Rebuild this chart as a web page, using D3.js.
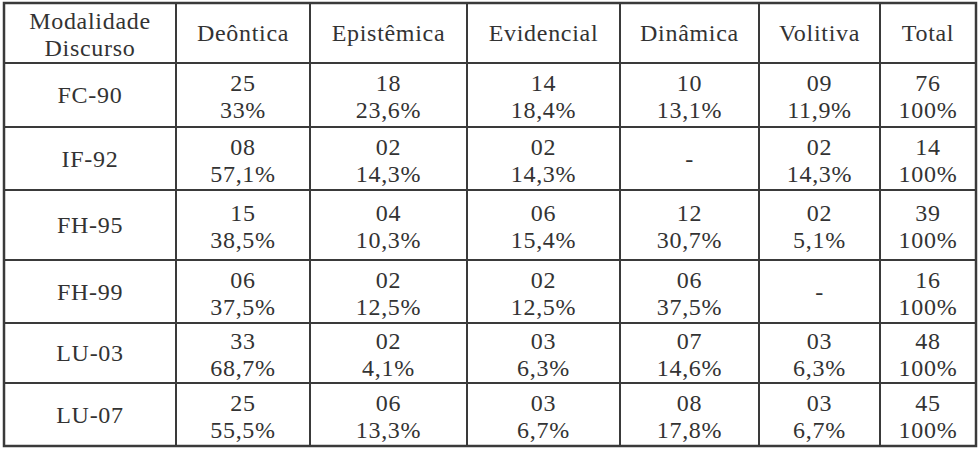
<!DOCTYPE html>
<html>
<head>
<meta charset="utf-8">
<script src="https://cdn.jsdelivr.net/npm/d3@7"></script>
<style>
  body { margin: 0; background: #fff; }
  svg text { font-family: "Liberation Serif", "DejaVu Serif", serif; fill: #333; letter-spacing: 0.7px; }
</style>
</head>
<body>
<div id="chart"></div>
<script>
// dados da tabela
var cabecalho = ["Modalidade", "Discurso"];
var modalidades = ["Deôntica", "Epistêmica", "Evidencial", "Dinâmica", "Volitiva", "Total"];
var discursos = ["FC-90", "IF-92", "FH-95", "FH-99", "LU-03", "LU-07"];

// ocorrencias por discurso (null = "-")
var ocorrencias = [
    ["25", "18", "14", "10", "09", "76"],
    ["08", "02", "02", null, "02", "14"],
    ["15", "04", "06", "12", "02", "39"],
    ["06", "02", "02", "06", null, "16"],
    ["33", "02", "03", "07", "03", "48"],
    ["25", "06", "03", "08", "03", "45"]
];

var percentuais = [
    ["33%", "23,6%", "18,4%", "13,1%", "11,9%", "100%"],
    ["57,1%", "14,3%", "14,3%", null, "14,3%", "100%"],
    ["38,5%", "10,3%", "15,4%", "30,7%", "5,1%", "100%"],
    ["37,5%", "12,5%", "12,5%", "37,5%", null, "100%"],
    ["68,7%", "4,1%", "6,3%", "14,6%", "6,3%", "100%"],
    ["55,5%", "13,3%", "6,7%", "17,8%", "6,7%", "100%"]
];

var w = 980, h = 449;

// grade (bordas das colunas e linhas)
var colEdges = [4, 176, 310, 467, 620, 759, 880, 976];
var rowEdges = [3, 63, 127, 190, 260, 323, 383, 446];

var colKeys = ["_disc"].concat(modalidades);
var rowKeys = ["_head"].concat(discursos);

var xLeft = d3.scaleOrdinal(colKeys, colEdges.slice(0, -1));
var xRight = d3.scaleOrdinal(colKeys, colEdges.slice(1));
var yTop = d3.scaleOrdinal(rowKeys, rowEdges.slice(0, -1));
var yBot = d3.scaleOrdinal(rowKeys, rowEdges.slice(1));

function cx(k) { return (xLeft(k) + xRight(k)) / 2; }
function cy(k) { return (yTop(k) + yBot(k)) / 2; }

var fs = 24;
var svg = d3.select("#chart").append("svg")
    .attr("width", w)
    .attr("height", h);

// linhas internas
var grid = svg.append("g")
    .attr("stroke", "#3a3a3a")
    .attr("stroke-width", 2);

grid.selectAll(".vline")
    .data(colKeys.slice(1))
    .enter().append("line")
    .attr("x1", function(d) { return xLeft(d); })
    .attr("x2", function(d) { return xLeft(d); })
    .attr("y1", rowEdges[0])
    .attr("y2", rowEdges[rowEdges.length - 1]);

grid.selectAll(".hline")
    .data(rowKeys.slice(1))
    .enter().append("line")
    .attr("y1", function(d) { return yTop(d); })
    .attr("y2", function(d) { return yTop(d); })
    .attr("x1", colEdges[0])
    .attr("x2", colEdges[colEdges.length - 1]);

// borda externa
svg.append("rect")
    .attr("x", colEdges[0])
    .attr("y", rowEdges[0])
    .attr("width", colEdges[colEdges.length - 1] - colEdges[0])
    .attr("height", rowEdges[rowEdges.length - 1] - rowEdges[0])
    .attr("fill", "none")
    .attr("stroke", "#3a3a3a")
    .attr("stroke-width", 2.5);

var txt = svg.append("g")
    .attr("text-anchor", "middle")
    .style("font-size", fs + "px");

// celula de duas linhas
function twoLines(col, row, a, b) {
    txt.append("text").attr("x", cx(col)).attr("y", cy(row) - 4).text(a);
    txt.append("text").attr("x", cx(col)).attr("y", cy(row) + 23).text(b);
}
function oneLine(col, row, a) {
    txt.append("text").attr("x", cx(col)).attr("y", cy(row) + 8).text(a);
}

twoLines("_disc", "_head", cabecalho[0], cabecalho[1]);
modalidades.forEach(function(m) { oneLine(m, "_head", m); });

discursos.forEach(function(d, i) {
    oneLine("_disc", d, d);
    modalidades.forEach(function(m, j) {
        if (ocorrencias[i][j] == null) {
            oneLine(m, d, "-");
        } else {
            twoLines(m, d, ocorrencias[i][j], percentuais[i][j]);
        }
    });
});
</script>
</body>
</html>
